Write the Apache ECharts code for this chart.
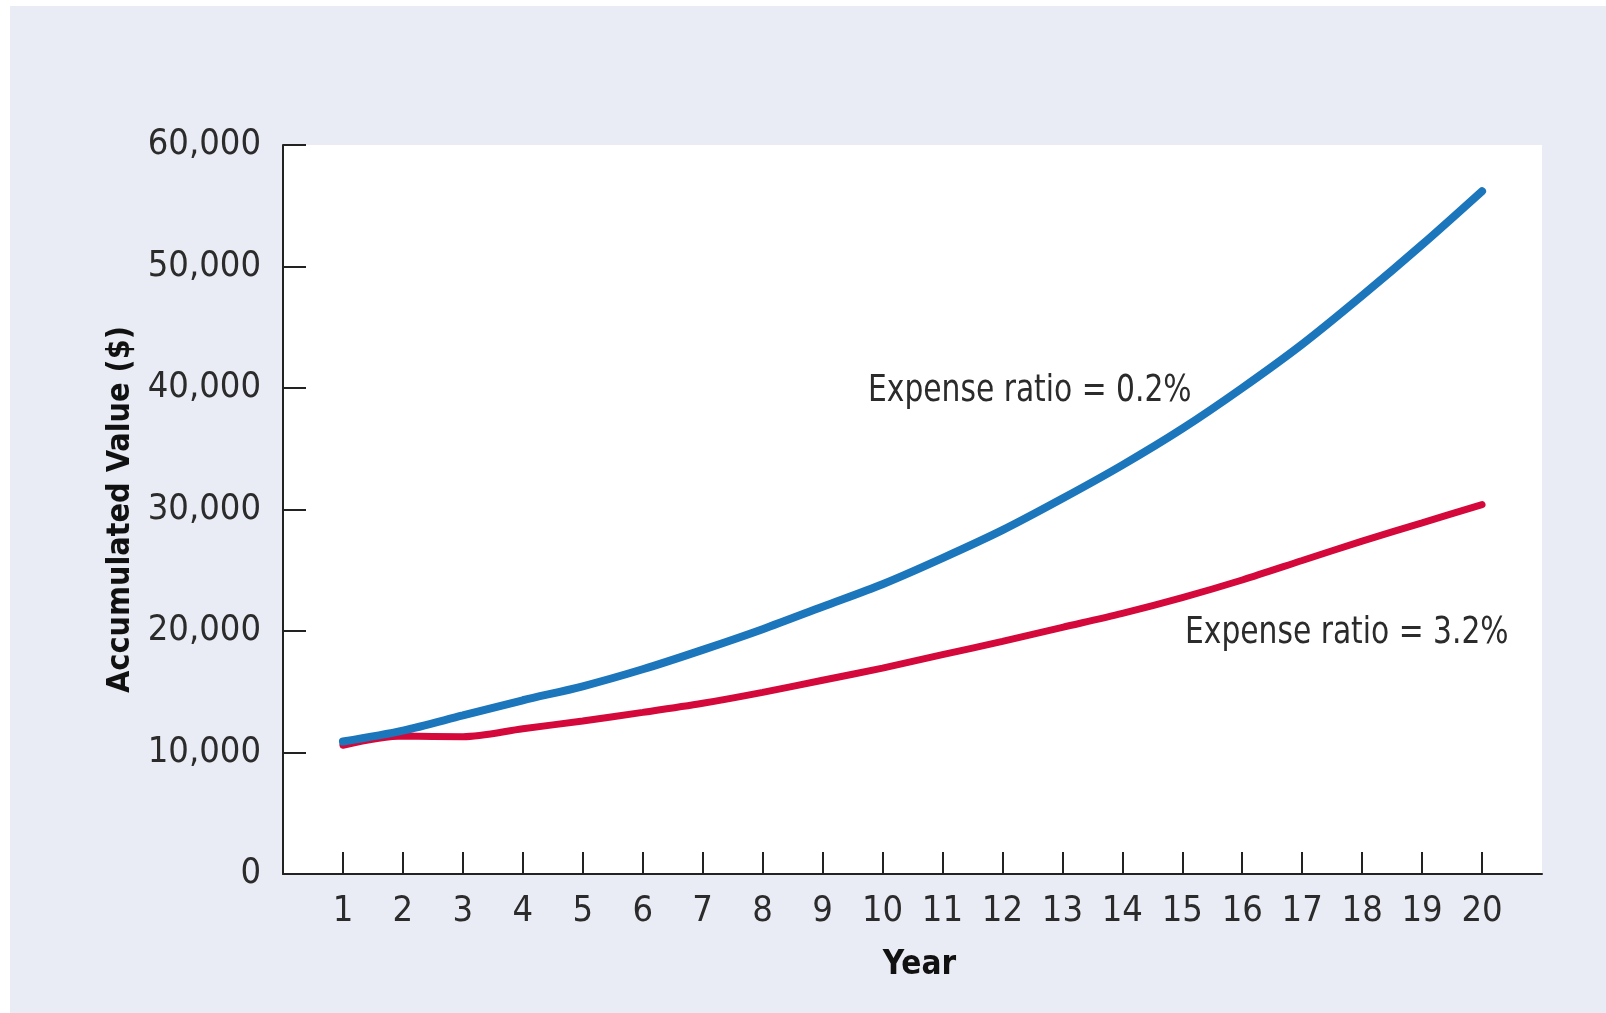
<!DOCTYPE html>
<html>
<head>
<meta charset="utf-8">
<script src="https://cdn.jsdelivr.net/npm/echarts@6/dist/echarts.min.js"></script>
<style>
  html, body { margin: 0; padding: 0; background: #ffffff; }
  #chart { position: absolute; left: 10px; top: 6px; width: 1596px; height: 1007px; }
</style>
</head>
<body>
<div id="chart"></div>
<script>
// years on the x axis
const years = [1, 2, 3, 4, 5, 6, 7, 8, 9, 10, 11, 12, 13, 14, 15, 16, 17, 18, 19, 20];
// accumulated value, expense ratio 0.2%
const lowFee = [10900, 11800, 13050, 14300, 15450, 16850, 18450, 20150, 22000, 23850,
  26000, 28300, 30900, 33650, 36650, 40000, 43600, 47600, 51800, 56200];
// accumulated value, expense ratio 3.2%
const highFee = [10600, 11350, 11300, 11950, 12600, 13300, 14050, 14950, 15950, 16950,
  18050, 19150, 20300, 21450, 22750, 24200, 25800, 27400, 28900, 30400];
const yTicks = [0, 10000, 20000, 30000, 40000, 50000, 60000];

const FONT = "'Liberation Sans Narrow', 'DejaVu Sans Condensed', sans-serif";
const TEXT = "#2b2b2b";

const chart = echarts.init(document.getElementById("chart"));

const option = {
  backgroundColor: "#e9ecf4",
  animation: false,
  grid: {
    left: 273,
    top: 139,
    right: 64,
    bottom: 139,
    show: true,
    backgroundColor: "#ffffff",
    borderWidth: 0,
  },
  xAxis: {
    type: "value",
    min: 0,
    max: 21,
    interval: 1,
    name: "Year",
    nameLocation: "middle",
    nameGap: 75,
    nameTextStyle: {
      fontFamily: FONT,
      fontWeight: "bold",
      fontSize: 33,
      color: "#111",
      padding: [0, 0, 0, 14],
    },
    splitLine: { show: false },
    axisLine: { lineStyle: { color: "#222", width: 2 } },
    axisTick: {
      inside: true,
      length: 22,
      customValues: years,
      lineStyle: { color: "#222", width: 2 },
    },
    axisLabel: {
      customValues: years,
      margin: 20,
      fontFamily: FONT,
      fontSize: 36,
      color: TEXT,
    },
  },
  yAxis: {
    type: "value",
    min: yTicks[0],
    max: yTicks[yTicks.length - 1],
    interval: 10000,
    name: "Accumulated Value ($)",
    nameLocation: "middle",
    nameGap: 145,
    nameTextStyle: {
      fontFamily: FONT,
      fontWeight: "bold",
      fontSize: 32,
      color: "#111",
    },
    splitLine: { show: false },
    axisLine: { show: true, lineStyle: { color: "#222", width: 2 } },
    axisTick: {
      show: true,
      inside: true,
      length: 23,
      lineStyle: { color: "#222", width: 2 },
    },
    axisLabel: {
      margin: 22,
      fontFamily: FONT,
      fontSize: 36,
      color: TEXT,
      formatter: (v) => v.toLocaleString("en-US"),
    },
  },
  series: [
    {
      name: "Expense ratio = 3.2%",
      type: "line",
      data: years.map((y, i) => [y, highFee[i]]),
      smooth: 0.3,
      showSymbol: false,
      lineStyle: { color: "#d4083a", width: 7, cap: "round" },
      z: 2,
    },
    {
      name: "Expense ratio = 0.2%",
      type: "line",
      data: years.map((y, i) => [y, lowFee[i]]),
      smooth: 0.3,
      showSymbol: false,
      lineStyle: { color: "#1b76bc", width: 8, cap: "round" },
      z: 3,
    },
  ],
  graphic: [
    {
      type: "text",
      x: 858,
      y: 366,
      scaleX: 0.87,
      style: {
        text: "Expense ratio = 0.2%",
        fontFamily: FONT,
        fontSize: 38,
        fill: TEXT,
      },
    },
    {
      type: "text",
      x: 1175,
      y: 608,
      scaleX: 0.87,
      style: {
        text: "Expense ratio = 3.2%",
        fontFamily: FONT,
        fontSize: 38,
        fill: TEXT,
      },
    },
  ],
};

chart.setOption(option);

window.addEventListener("resize", () => {
  chart.resize();
});
</script>
</body>
</html>
